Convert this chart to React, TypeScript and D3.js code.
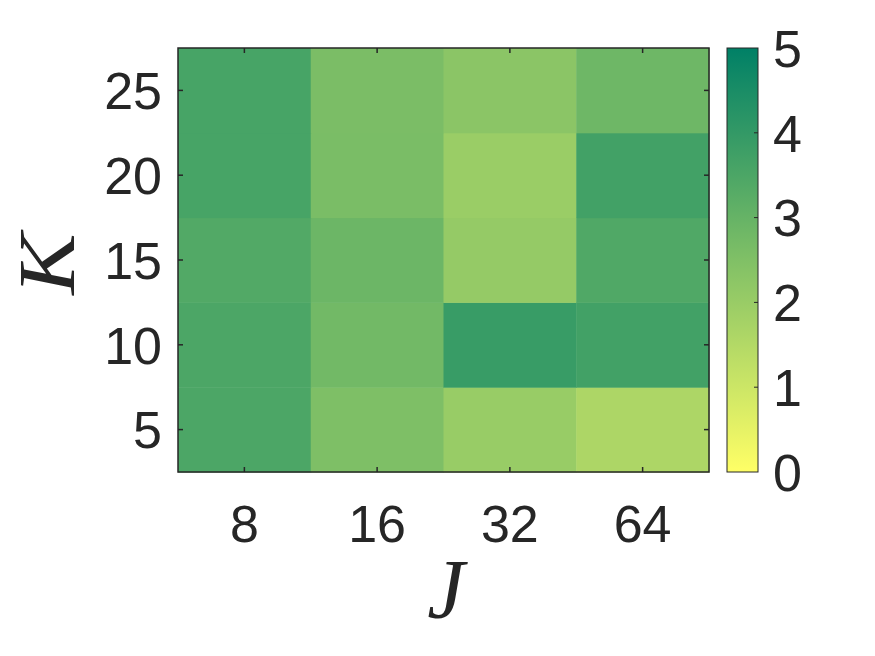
import React from "react";
import * as d3 from "d3";

const jLabels = ["8", "16", "32", "64"];
const kLabels = ["5", "10", "15", "20", "25"];
// values[k][j]
const values: number[][] = [
  [3.51, 2.53, 2.02, 1.61],
  [3.51, 2.76, 3.9, 3.7],
  [3.39, 2.88, 2.08, 3.43],
  [3.6, 2.6, 1.98, 3.7],
  [3.6, 2.59, 2.27, 2.84],
];
const cbTicks = [0, 1, 2, 3, 4, 5];

const W = 875, H = 656;
const L = 178, R = 709, T = 48, B = 472;
const CBX0 = 727, CBX1 = 758;
const TXT = "#262626";
const FONT = "'Liberation Sans', Arial, sans-serif";

export default function App() {
  const x = d3.scaleBand<string>().domain(jLabels).range([L, R]);
  const y = d3.scaleBand<string>().domain(kLabels).range([B, T]);
  const color = d3.scaleLinear<string>().domain([0, 5]).range(["#ffff66", "#008066"]).interpolate(d3.interpolateRgb);
  const cy = d3.scaleLinear().domain([0, 5]).range([B, T]);
  const tl = 5;
  const stops = d3.range(0, 1.0001, 0.1);
  return (
    <svg width={W} height={H} style={{ position: "absolute", left: 0, top: 0, background: "#fff" }}>
      <defs>
        <linearGradient id="cb" x1="0" y1="1" x2="0" y2="0">
          {stops.map((s, i) => (
            <stop key={i} offset={s} stopColor={color(s * 5)} />
          ))}
        </linearGradient>
      </defs>
      {values.map((row, ki) =>
        row.map((v, ji) => (
          <rect key={`${ki}-${ji}`} x={x(jLabels[ji])} y={y(kLabels[ki])} width={x.bandwidth() + 0.5} height={y.bandwidth() + 0.5} fill={color(v)} />
        ))
      )}
      <rect x={L} y={T} width={R - L} height={B - T} fill="none" stroke={TXT} strokeWidth={1.5} />
      {jLabels.map((j) => {
        const cx = x(j)! + x.bandwidth() / 2;
        return (
          <g key={j}>
            <line x1={cx} x2={cx} y1={B} y2={B - tl} stroke={TXT} strokeWidth={1.5} />
            <line x1={cx} x2={cx} y1={T} y2={T + tl} stroke={TXT} strokeWidth={1.5} />
            <text x={cx} y={542} textAnchor="middle" fontFamily={FONT} fontSize={52} fill={TXT}>{j}</text>
          </g>
        );
      })}
      {kLabels.map((k) => {
        const cyy = y(k)! + y.bandwidth() / 2;
        return (
          <g key={k}>
            <line x1={L} x2={L + tl} y1={cyy} y2={cyy} stroke={TXT} strokeWidth={1.5} />
            <line x1={R} x2={R - tl} y1={cyy} y2={cyy} stroke={TXT} strokeWidth={1.5} />
            <text x={162} y={cyy} dy="0.36em" textAnchor="end" fontFamily={FONT} fontSize={52} fill={TXT}>{k}</text>
          </g>
        );
      })}
      <rect x={CBX0} y={T} width={CBX1 - CBX0} height={B - T} fill="url(#cb)" stroke={TXT} strokeWidth={1} />
      {cbTicks.map((t) => (
        <g key={t}>
          {t > 0 && t < 5 && <line x1={CBX1} x2={CBX1 - 4} y1={cy(t)} y2={cy(t)} stroke={TXT} strokeWidth={1} />}
          <text x={773} y={cy(t)} dy="0.36em" fontFamily={FONT} fontSize={52} fill={TXT}>{t}</text>
        </g>
      ))}
      <text x={446} y={618} textAnchor="middle" fontFamily="'Liberation Serif', 'Times New Roman', serif" fontStyle="italic" fontSize={84} fill={TXT}>J</text>
      <text transform={`translate(74,${(T + B) / 2 + 4}) rotate(-90) scale(1.15,1)`} textAnchor="middle" fontFamily="'Liberation Serif', 'Times New Roman', serif" fontStyle="italic" fontSize={80} fill={TXT}>K</text>
    </svg>
  );
}
